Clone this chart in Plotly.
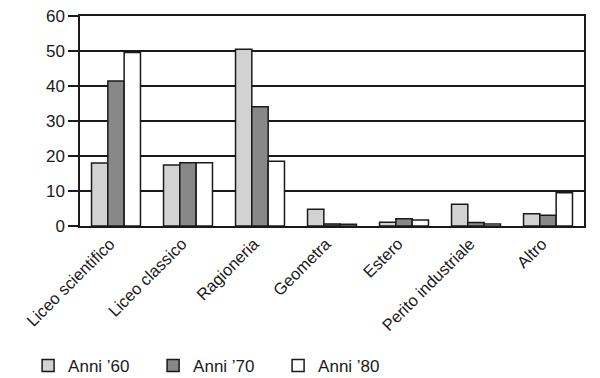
import plotly.graph_objects as go

categories = ["Liceo scientifico", "Liceo classico", "Ragioneria", "Geometra",
              "Estero", "Perito industriale", "Altro"]
anni_60 = [18.0, 17.4, 50.5, 4.8, 1.1, 6.2, 3.5]
anni_70 = [41.4, 18.1, 34.1, 0.6, 2.1, 1.0, 3.1]
anni_80 = [49.6, 18.1, 18.5, 0.5, 1.7, 0.6, 9.5]
series_names = ["Anni \u201960", "Anni \u201970", "Anni \u201980"]
y_ticks = [0, 10, 20, 30, 40, 50, 60]

colors = ["#d2d2d2", "#888888", "#ffffff"]

fig = go.Figure()
for name, vals, col in zip(series_names, [anni_60, anni_70, anni_80], colors):
    fig.add_trace(go.Bar(
        x=categories, y=vals, name=name,
        marker=dict(color=col, line=dict(color="#1a1a1a", width=1.5)),
    ))

fig.update_layout(
    width=600, height=378,
    margin=dict(l=80, r=16, t=16, b=152, autoexpand=False),
    paper_bgcolor="white", plot_bgcolor="white",
    barmode="group", bargap=0.32, bargroupgap=0.0,
    font=dict(family="Liberation Sans, Arial, sans-serif", size=17, color="#1a1a1a"),
    showlegend=True,
    legend=dict(orientation="h", x=-0.103, xanchor="left", y=-0.667, yanchor="middle",
                font=dict(size=17), entrywidth=80, itemwidth=30,
                bgcolor="rgba(0,0,0,0)"),
)
fig.update_yaxes(
    range=[0, 60], tickvals=y_ticks, ticks="outside", ticklen=10, tickwidth=1.5,
    tickcolor="#1a1a1a", showgrid=True, gridcolor="#1a1a1a", gridwidth=1.5,
    showline=True, linecolor="#1a1a1a", linewidth=1.5, mirror=True,
    zeroline=False, fixedrange=True, automargin=False,
)
fig.update_xaxes(
    tickangle=-45, tickfont=dict(size=16.5), showline=True, linecolor="#1a1a1a",
    linewidth=1.5, mirror=True, ticks="", fixedrange=True, automargin=False,
    ticklabelshift=-6,
)

fig.write_html("out.html", config={"displayModeBar": False},
               post_script="document.body.style.margin='0';document.body.style.overflow='hidden';")
